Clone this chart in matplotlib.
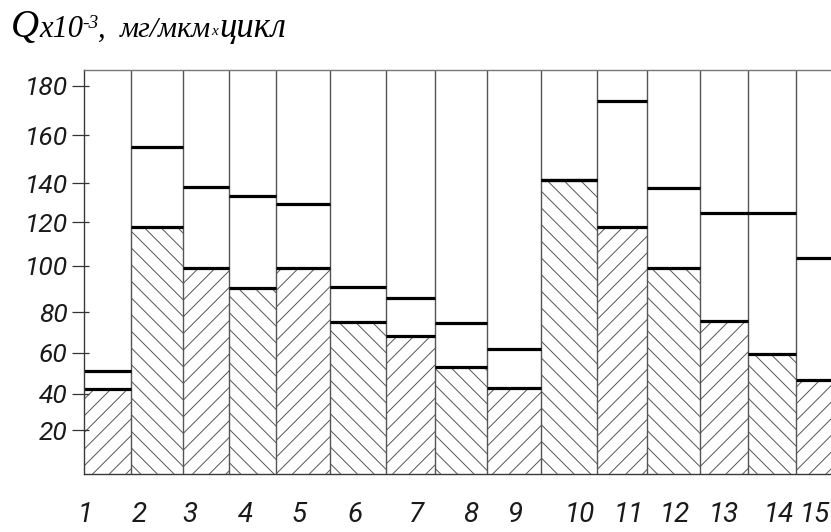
import numpy as np
import matplotlib
matplotlib.use("Agg")
import matplotlib.pyplot as plt
from matplotlib.transforms import IdentityTransform
from matplotlib.ticker import FixedLocator

# Wear rate per sample, Q x 10^-3 mg/(um*cycle)
samples = [str(i) for i in range(1, 16)]
q_upper = [51, 155, 138, 133.5, 129.5, 91, 86, 75, 62, 141.5, 174, 137.5, 125, 125, 103.5]
q_lower = [42, 118, 99, 90.5, 99, 75.5, 68.5, 53, 42.5, 141.5, 118, 99, 76, 59.5, 46.5]
y_ticks = [20, 40, 60, 80, 100, 120, 140, 160, 180]

# hand-ruled scale of the graph paper: value -> height above baseline
grad_values = [-20, 0, 20, 40, 60, 80, 100, 120, 140, 160, 180, 200]
grad_heights = [-44, 0, 44, 80.7, 121.3, 161.7, 208.3, 251.7, 290.7, 339, 388, 437]

# column layout along the x axis
col_widths = [46.7, 52.3, 45.4, 47.6, 53.4, 56.0, 49.6, 52.0, 54.0, 55.4, 50.3, 53.3, 47.4, 48.3, 58.0]
label_pos = [1, 55, 105.7, 160.7, 215, 270.7, 331.7, 386.7, 431.7, 495.7, 544, 590.7, 639, 694, 730]
hatches = ["//", "\\\\"] * 8

W, H = 831, 532
fig = plt.figure(figsize=(W / 100, H / 100), dpi=100)
ax = fig.add_axes([84.3 / W, (H - 474.3) / H, (W - 84.3) / W, (474.3 - 70.3) / H])

fwd = lambda v: np.interp(v, grad_values, grad_heights)
inv = lambda h: np.interp(h, grad_heights, grad_values)
ax.set_yscale("function", functions=(fwd, inv))
y_top = 186.4
ax.set_ylim(0, y_top)
ax.set_xlim(0, 746.7)

edges = np.concatenate([[0], np.cumsum(col_widths)])
lefts, rights = edges[:-1], edges[1:]

plt.rcParams["hatch.linewidth"] = 0.7
bars = ax.bar(lefts, q_lower, width=col_widths, align="edge", facecolor="none",
              edgecolor="#555555", linewidth=0)
for b, h in zip(bars, hatches):
    b.set_hatch(h)

ax.vlines(edges[1:], 0, y_top, colors="#555555", linewidth=1.0)
ax.hlines(q_upper, lefts, rights, colors="black", linewidth=2.3)
ax.hlines(q_lower, lefts, rights, colors="black", linewidth=2.3)

for side in ("left", "bottom"):
    ax.spines[side].set_color("#3a3a3a")
    ax.spines[side].set_linewidth(1.0)
ax.spines["top"].set_color("#777777")
ax.spines["top"].set_linewidth(1.0)
ax.spines["right"].set_visible(False)

digit_font = dict(family="Roboto", style="italic", weight="normal", color="#1a1a1a")

ax.set_yticks(y_ticks)
ax.set_yticklabels([str(v) for v in y_ticks], fontsize=19, **digit_font)
ax.yaxis.set_minor_locator(FixedLocator(y_ticks))
ax.yaxis.remove_overlapping_locs = False
ax.tick_params(axis="y", which="major", direction="out", length=9, width=0.9,
               color="#333333", pad=3)
ax.tick_params(axis="y", which="minor", direction="in", length=3.6, width=0.9,
               color="#333333")

ax.set_xticks(label_pos)
ax.set_xticklabels(samples, fontsize=20, **digit_font)
ax.tick_params(axis="x", length=0, pad=20)

# axis title, set piece by piece (pixel positions from the top-left corner)
serif = dict(family="Liberation Serif", style="italic", color="black")
base = 37
pieces = [("Q", 11, 28, 0), ("x10", 39, 22, 0), ("-3", 82, 14, 9), (",", 98, 22, 0),
          ("мг/мкм", 120, 21.5, 0), ("x", 211, 11, 2), ("цикл", 219, 25, 0)]
for s, px, size, dy in pieces:
    fig.text(px, H - base + dy, s, fontsize=size, va="baseline", ha="left",
             transform=IdentityTransform(), **serif)

fig.savefig("out.png", dpi=100)
